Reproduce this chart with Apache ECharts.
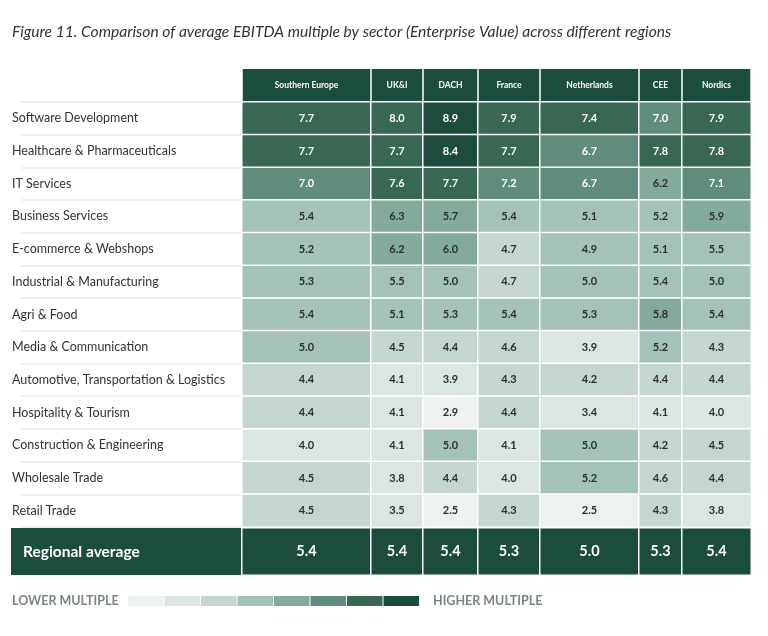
<!DOCTYPE html>
<html>
<head>
<meta charset="utf-8">
<script src="https://cdn.jsdelivr.net/npm/echarts@6/dist/echarts.min.js"></script>
<style>
  html, body { margin: 0; padding: 0; background: #fff; }
  #main { width: 768px; height: 636px; }
</style>
</head>
<body>
<div id="main"></div>
<script>
// categories
var regions = ['Southern Europe', 'UK&I', 'DACH', 'France', 'Netherlands', 'CEE', 'Nordics'];
var sectors = ['Software Development', 'Healthcare & Pharmaceuticals', 'IT Services', 'Business Services',
  'E-commerce & Webshops', 'Industrial & Manufacturing', 'Agri & Food', 'Media & Communication',
  'Automotive, Transportation & Logistics', 'Hospitality & Tourism', 'Construction & Engineering',
  'Wholesale Trade', 'Retail Trade'];

// EBITDA multiples per region, one value per sector (same order as sectors)
var southernEurope = [7.7, 7.7, 7.0, 5.4, 5.2, 5.3, 5.4, 5.0, 4.4, 4.4, 4.0, 4.5, 4.5];
var ukAndIreland   = [8.0, 7.7, 7.6, 6.3, 6.2, 5.5, 5.1, 4.5, 4.1, 4.1, 4.1, 3.8, 3.5];
var dach           = [8.9, 8.4, 7.7, 5.7, 6.0, 5.0, 5.3, 4.4, 3.9, 2.9, 5.0, 4.4, 2.5];
var france         = [7.9, 7.7, 7.2, 5.4, 4.7, 4.7, 5.4, 4.6, 4.3, 4.4, 4.1, 4.0, 4.3];
var netherlands    = [7.4, 6.7, 6.7, 5.1, 4.9, 5.0, 5.3, 3.9, 4.2, 3.4, 5.0, 5.2, 2.5];
var cee            = [7.0, 7.8, 6.2, 5.2, 5.1, 5.4, 5.8, 5.2, 4.4, 4.1, 4.2, 4.6, 4.3];
var nordics        = [7.9, 7.8, 7.1, 5.9, 5.5, 5.0, 5.4, 4.3, 4.4, 4.0, 4.5, 4.4, 3.8];
var regionalAverage = [5.4, 5.4, 5.4, 5.3, 5.0, 5.3, 5.4];

var values = [southernEurope, ukAndIreland, dach, france, netherlands, cee, nordics];

// colour scale (low -> high)
var binEdges = [3.0, 4.15, 4.8, 5.6, 6.5, 7.3, 8.2];
var binColors = ['#edf1ef', '#dce6e0', '#c4d6cd', '#a5c2b6', '#84aa9b', '#5f8c7b', '#386754', '#1b4c3d'];
var scaleText = ['LOWER MULTIPLE', 'HIGHER MULTIPLE'];

// layout
var FONT = 'Lato';
var colEdges = [242, 371, 423, 478, 540, 639, 682, 751];
var bodyTop = 102, bodyHeight = 425;
var avgTop = 528, avgHeight = 47;
var dark = '#1b4c3d';

var grid = [], xAxis = [], yAxis = [], series = [];

// label column
grid.push({ left: 21, top: bodyTop, width: 220, height: bodyHeight });
xAxis.push({ gridIndex: 0, type: 'category', data: [''], show: false });
yAxis.push({
  gridIndex: 0, type: 'category', data: sectors, inverse: true,
  axisLine: { show: false }, axisTick: { show: false },
  axisLabel: { align: 'left', margin: 9, color: '#333', fontSize: 12.5, fontFamily: FONT },
  splitLine: { show: true, interval: 0, lineStyle: { color: '#edf1ef', width: 2 } }
});

regions.forEach(function (r, i) {
  var w = colEdges[i + 1] - colEdges[i];
  grid.push({ left: colEdges[i], top: bodyTop, width: w, height: bodyHeight });
  var gi = grid.length - 1;
  xAxis.push({
    gridIndex: gi, type: 'category', data: [r], position: 'top',
    axisLine: { show: false }, axisTick: { show: false },
    axisLabel: {
      margin: 1, color: '#fff', fontWeight: 'bold', fontSize: 8.5, fontFamily: FONT,
      backgroundColor: dark, width: w - 1.5, height: 32, lineHeight: 32, align: 'center'
    }
  });
  yAxis.push({ gridIndex: gi, type: 'category', data: sectors, inverse: true, show: false });
  series.push({
    type: 'heatmap', xAxisIndex: gi, yAxisIndex: gi,
    data: values[i].map(function (v, j) {
      return {
        value: [0, j, v],
        label: { color: v >= 6.5 ? '#ffffff' : '#2e2e2e' }
      };
    }),
    itemStyle: { borderColor: '#fff', borderWidth: 1.5 },
    label: {
      show: true, fontWeight: 'bold', fontSize: 11, fontFamily: FONT,
      formatter: function (p) { return p.value[2].toFixed(1); }
    },
    emphasis: { disabled: true }
  });
});

regions.forEach(function (r, i) {
  var w = colEdges[i + 1] - colEdges[i];
  grid.push({ left: colEdges[i], top: avgTop, width: w, height: avgHeight });
  var gi = grid.length - 1;
  xAxis.push({ gridIndex: gi, type: 'category', data: [r], show: false });
  yAxis.push({
    gridIndex: gi, type: 'category', data: ['Regional average'], show: i === 0,
    axisLine: { show: false }, axisTick: { show: false },
    axisLabel: {
      align: 'left', margin: 231, color: '#fff', fontWeight: 'bold', fontSize: 15.5, fontFamily: FONT,
      backgroundColor: dark, width: 218, height: avgHeight, lineHeight: avgHeight,
      padding: [0, 0, 0, 12]
    }
  });
  series.push({
    type: 'heatmap', xAxisIndex: gi, yAxisIndex: gi,
    data: [[0, 0, regionalAverage[i]]],
    itemStyle: { color: dark, borderColor: '#fff', borderWidth: 1.5 },
    label: {
      show: true, color: '#fff', fontWeight: 'bold', fontSize: 14.5, fontFamily: FONT,
      formatter: function (p) { return p.value[2].toFixed(1); }
    },
    emphasis: { disabled: true }
  });
});

var pieces = binColors.map(function (c, k) {
  var p = { color: c };
  if (k > 0) p.gte = binEdges[k - 1];
  if (k < binEdges.length) p.lt = binEdges[k];
  return p;
});

var scaleTextStyle = { fill: '#7b8580', fontWeight: 'bold', fontSize: 12.5, fontFamily: FONT, verticalAlign: 'middle' };

var chart = echarts.init(document.getElementById('main'));
chart.setOption({
  animation: false,
  backgroundColor: '#fff',
  title: {
    text: 'Figure 11. Comparison of average EBITDA multiple by sector (Enterprise Value) across different regions',
    left: 7, top: 19,
    textStyle: { fontStyle: 'italic', fontWeight: 'normal', fontSize: 15.6, color: '#333', fontFamily: FONT }
  },
  grid: grid,
  xAxis: xAxis,
  yAxis: yAxis,
  visualMap: {
    type: 'piecewise',
    seriesIndex: [0, 1, 2, 3, 4, 5, 6],
    dimension: 2,
    pieces: pieces,
    orient: 'horizontal',
    left: 128, top: 596,
    padding: 0,
    itemWidth: 35.5, itemHeight: 10, itemGap: 1,
    itemSymbol: 'rect',
    showLabel: false,
    selectedMode: false
  },
  graphic: [
    { type: 'text', left: 12, top: 594, style: Object.assign({ text: scaleText[0] }, scaleTextStyle, { verticalAlign: null }) },
    { type: 'text', left: 433, top: 594, style: Object.assign({ text: scaleText[1] }, scaleTextStyle, { verticalAlign: null }) }
  ],
  series: series
});
</script>
</body>
</html>
